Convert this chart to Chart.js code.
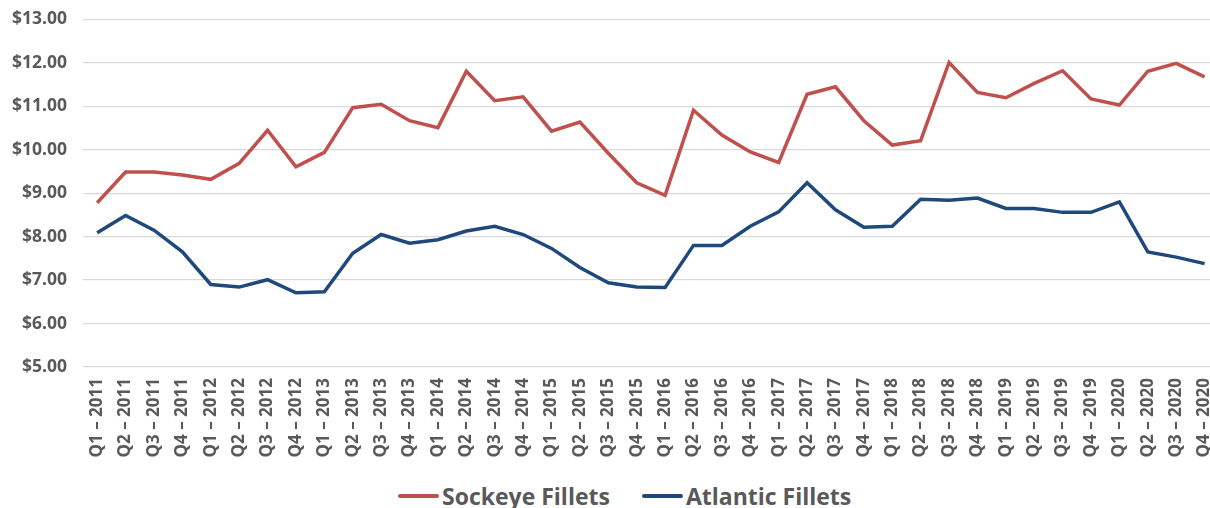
<!DOCTYPE html>
<html>
<head>
<meta charset="utf-8">
<script src="https://cdn.jsdelivr.net/npm/chart.js@4/dist/chart.umd.min.js"></script>
<style>
  html, body { margin: 0; padding: 0; background: #fff; overflow: hidden; width: 1210px; height: 508px; }
  #wrap { position: absolute; left: 0; top: -7px; width: 1236px; height: 480px; }
  #legend {
    position: absolute; left: 398px; top: 480px; height: 32px;
    display: flex; align-items: center;
    font: bold 23px "Open Sans", "Liberation Sans", sans-serif; color: #595959;
    white-space: nowrap;
  }
  #legend .item { display: flex; align-items: center; margin-right: 32px; }
  #legend .swatch { width: 41px; height: 4px; border-radius: 2px; margin-right: 3px; }
</style>
</head>
<body>
<div id="wrap"><canvas id="chart" width="1236" height="480"></canvas></div>
<div id="legend"></div>
<script>
/* ---------- data ---------- */
const quarters = [];
const years = [2011, 2012, 2013, 2014, 2015, 2016, 2017, 2018, 2019, 2020];
years.forEach(y => ['Q1', 'Q2', 'Q3', 'Q4'].forEach(q => quarters.push(q + ' \u2013 ' + y)));

const sockeye = [
  8.78, 9.49, 9.49, 9.42, 9.32, 9.69, 10.45, 9.61, 9.94, 10.97,
  11.05, 10.67, 10.51, 11.81, 11.13, 11.22, 10.43, 10.64, 9.92, 9.24,
  8.95, 10.91, 10.34, 9.95, 9.71, 11.28, 11.45, 10.67, 10.11, 10.21,
  12.01, 11.32, 11.20, 11.53, 11.82, 11.17, 11.03, 11.81, 11.99, 11.68
];
const atlantic = [
  8.09, 8.49, 8.15, 7.65, 6.90, 6.84, 7.01, 6.71, 6.73, 7.62,
  8.05, 7.85, 7.93, 8.13, 8.24, 8.05, 7.73, 7.29, 6.94, 6.84,
  6.83, 7.80, 7.80, 8.24, 8.57, 9.24, 8.62, 8.22, 8.24, 8.86,
  8.84, 8.89, 8.65, 8.65, 8.56, 8.56, 8.80, 7.65, 7.53, 7.38
];

const textColor = '#595959';
const fontFamily = '"Open Sans", "Liberation Sans", sans-serif';

const chart = new Chart(document.getElementById('chart'), {
  type: 'line',
  data: {
    labels: quarters,
    datasets: [
      { label: 'Sockeye Fillets', data: sockeye, borderColor: '#C0504D', backgroundColor: '#C0504D', borderWidth: 3.5, pointRadius: 0, tension: 0 },
      { label: 'Atlantic Fillets', data: atlantic, borderColor: '#1F497D', backgroundColor: '#1F497D', borderWidth: 3.5, pointRadius: 0, tension: 0 }
    ]
  },
  options: {
    responsive: false,
    animation: false,
    layout: { padding: { top: 3, right: 0, bottom: 0, left: 0 } },
    plugins: {
      tooltip: { enabled: false },
      legend: { display: false }
    },
    scales: {
      x: {
        offset: true,
        grid: { display: false, drawTicks: false },
        border: { display: false },
        afterFit: s => { s.height = 106; },
        ticks: {
          autoSkip: false,
          maxRotation: 90,
          minRotation: 90,
          padding: 11,
          color: textColor,
          font: { family: fontFamily, size: 17, weight: 'bold' }
        }
      },
      y: {
        min: 5,
        max: 13,
        grid: { color: '#d9d9d9', lineWidth: 1.3, drawTicks: false },
        border: { display: false },
        afterFit: s => { s.width = 83; },
        ticks: {
          stepSize: 1,
          padding: 16,
          color: textColor,
          font: { family: fontFamily, size: 17.5, weight: 'bold' },
          callback: v => '$' + v.toFixed(2)
        }
      }
    }
  }
});

/* ---------- HTML legend (line swatches like the original) ---------- */
const legendEl = document.getElementById('legend');
chart.data.datasets.forEach(ds => {
  const item = document.createElement('div');
  item.className = 'item';
  const sw = document.createElement('span');
  sw.className = 'swatch';
  sw.style.background = ds.borderColor;
  const txt = document.createElement('span');
  txt.textContent = ds.label;
  item.appendChild(sw);
  item.appendChild(txt);
  legendEl.appendChild(item);
});
</script>
</body>
</html>
